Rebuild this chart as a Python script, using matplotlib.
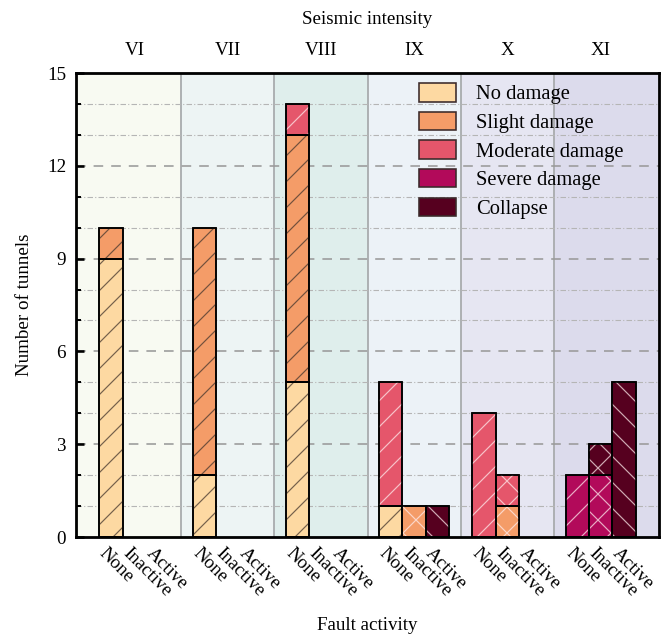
import numpy as np
import matplotlib
matplotlib.use("Agg")
import matplotlib.pyplot as plt
import matplotlib.transforms as mtransforms
from matplotlib.patches import Patch

DPI = 78


def P(px):
    """Convert a size in pixels to points at the working dpi."""
    return px * 72.0 / DPI


plt.rcParams['font.family'] = ['Liberation Serif', 'DejaVu Serif']
plt.rcParams['hatch.linewidth'] = P(1.2)

# Seismic intensity groups and fault-activity sub-categories
intensities = ['VI', 'VII', 'VIII', 'IX', 'X', 'XI']
faults = ['None', 'Inactive', 'Active']
levels = ['No damage', 'Slight damage', 'Moderate damage', 'Severe damage', 'Collapse']

# Tunnel counts: rows = intensity, columns = fault activity (None, Inactive, Active)
no_damage = [[9, 0, 0], [2, 0, 0], [5, 0, 0], [1, 0, 0], [0, 0, 0], [0, 0, 0]]
slight    = [[1, 0, 0], [8, 0, 0], [8, 0, 0], [0, 1, 0], [0, 1, 0], [0, 0, 0]]
moderate  = [[0, 0, 0], [0, 0, 0], [1, 0, 0], [4, 0, 0], [4, 1, 0], [0, 0, 0]]
severe    = [[0, 0, 0], [0, 0, 0], [0, 0, 0], [0, 0, 0], [0, 0, 0], [2, 2, 0]]
collapse  = [[0, 0, 0], [0, 0, 0], [0, 0, 0], [0, 0, 1], [0, 0, 0], [0, 1, 5]]

level_colors = ['#FDD9A2', '#F49C68', '#E5566B', '#B20A5A', '#56001F']
group_bg = ['#F8FAF2', '#EDF4F4', '#DFEEEC', '#ECF2F7', '#E6E6F2', '#DCDBEC']
fault_hatch = ['/', 'x', '\\']

W, H = 669, 637
fig = plt.figure(figsize=(W / DPI, H / DPI), dpi=DPI)
ax = fig.add_axes([76 / W, (H - 537) / H, (659 - 76) / W, (537 - 73) / H])

xmin, xmax = -0.625, 5.625
ax.set_xlim(xmin, xmax)
ax.set_ylim(0, 15)

# group background bands and separators
n = len(intensities)
for i in range(n):
    lo = xmin if i == 0 else i - 0.5
    hi = xmax if i == n - 1 else i + 0.5
    ax.axvspan(lo, hi, color=group_bg[i], zorder=0, lw=0)
    if i < n - 1:
        ax.axvline(i + 0.5, color='#A8ABAD', lw=P(1.8), zorder=1)

# horizontal grid lines
for y in range(1, 15):
    if y % 3 == 0:
        ax.axhline(y, color='#9A9A9A', lw=P(1.6), ls=(0, (6, 5)), zorder=1)
    else:
        ax.axhline(y, color='#B5B5B5', lw=P(1.1), ls=(0, (5, 2, 1, 2)), zorder=1)

data = [np.array(no_damage), np.array(slight), np.array(moderate),
        np.array(severe), np.array(collapse)]
bw = 0.25
offsets = [-bw, 0, bw]

for j, fault in enumerate(faults):
    x = np.arange(n) + offsets[j]
    bottom = np.zeros(n)
    for k in range(len(levels)):
        vals = data[k][:, j].astype(float)
        mask = vals > 0
        if not mask.any():
            continue
        ax.bar(x[mask], vals[mask], bw, bottom=bottom[mask], color=level_colors[k],
               edgecolor='black', lw=P(1.6), zorder=3)
        dark = (j == 0 and k <= 1)
        hcol = (0.28, 0.22, 0.18, 0.75) if dark else (1, 0.93, 0.93, 0.72)
        ax.bar(x[mask], vals[mask], bw, bottom=bottom[mask], facecolor='none',
               edgecolor=hcol, lw=0, hatch=fault_hatch[j], zorder=4)
        ax.bar(x[mask], vals[mask], bw, bottom=bottom[mask], facecolor='none',
               edgecolor='black', lw=P(1.6), zorder=5)
        bottom = bottom + vals

FS = P(19)

# y axis
ax.set_yticks(range(0, 16, 3))
ax.set_yticks(range(0, 16), minor=True)
ax.tick_params(axis='y', which='major', direction='in', length=P(8), width=P(2.6),
               labelsize=FS, pad=P(10))
ax.tick_params(axis='y', which='minor', direction='in', length=P(5), width=P(2))
ax.set_ylabel('Number of tunnels', fontsize=FS, labelpad=P(14))

# bottom axis: fault activity labels
xt = [i + o for i in range(n) for o in offsets]
ax.set_xticks(xt)
ax.set_xticklabels(faults * n)
ax.tick_params(axis='x', which='both', length=0, labelsize=FS, pad=P(8))
shift = mtransforms.ScaledTranslation(-3 / DPI, 0, fig.dpi_scale_trans)
for lab in ax.get_xticklabels():
    lab.set_rotation(-45)
    lab.set_rotation_mode('anchor')
    lab.set_ha('left')
    lab.set_va('top')
    lab.set_transform(lab.get_transform() + shift)
ax.set_xlabel('Fault activity', fontsize=FS, labelpad=P(17))

# top axis: seismic intensity
top = ax.secondary_xaxis('top')
top.set_xticks(range(n))
top.set_xticklabels(intensities)
top.tick_params(length=0, labelsize=FS, pad=P(14))
top.set_xlabel('Seismic intensity', fontsize=FS, labelpad=P(18))

for s in ax.spines.values():
    s.set_linewidth(P(2.8))
    s.set_zorder(6)

handles = [Patch(facecolor=c, edgecolor='#3a2a2a', lw=P(1.6)) for c in level_colors]
ax.legend(handles, levels, loc='upper left', bbox_to_anchor=(0.588, 0.978),
          frameon=False, fontsize=P(20.5), handlelength=1.8, handleheight=1.0,
          labelspacing=0.36, handletextpad=1.0, borderpad=0, borderaxespad=0)

fig.savefig('out.png', dpi=DPI)
